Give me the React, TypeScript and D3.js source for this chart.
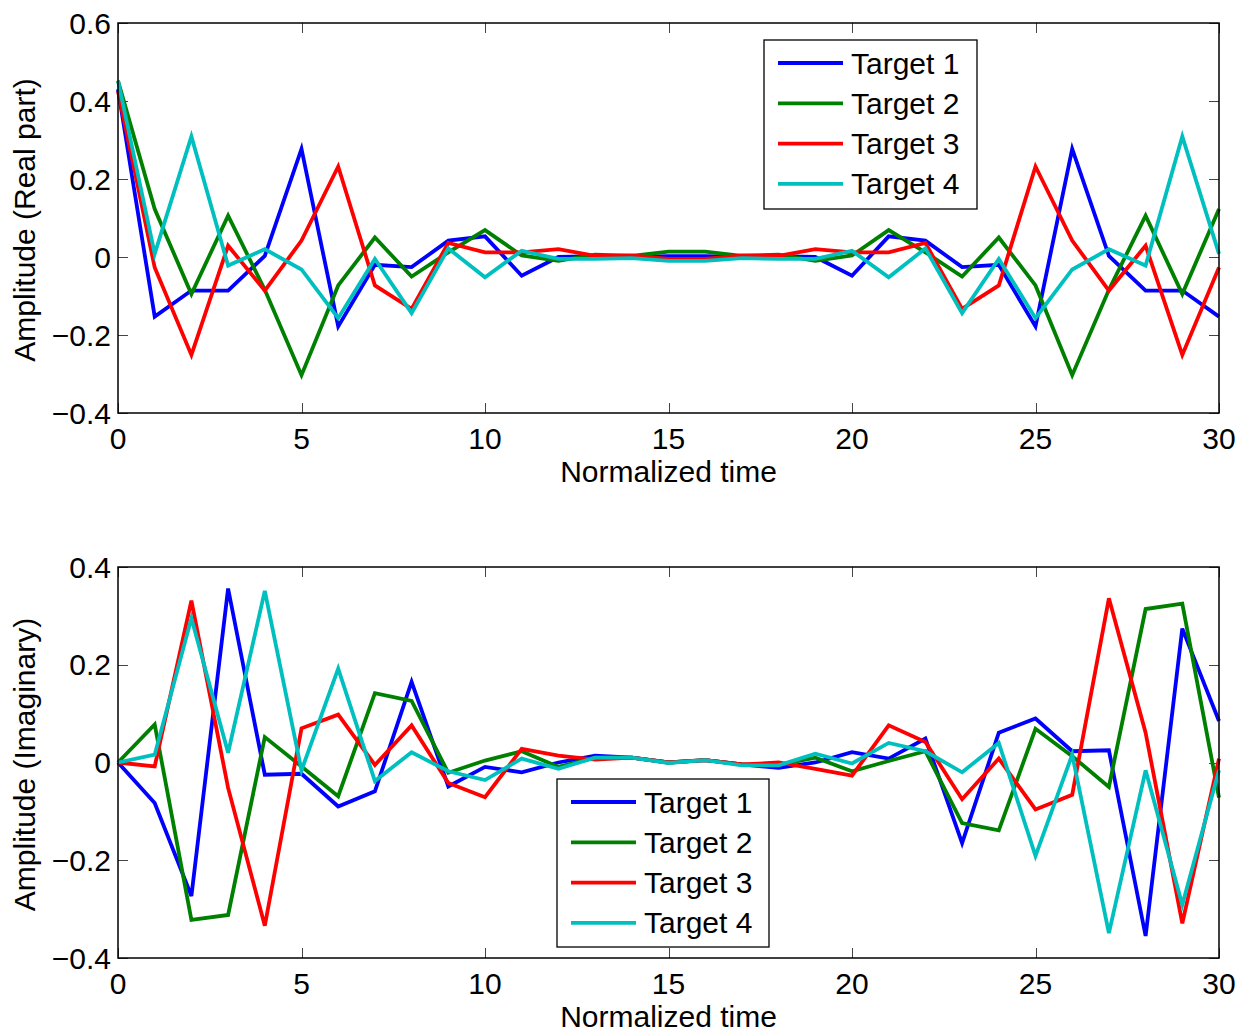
import React, { useEffect, useRef } from "react";
import * as d3 from "d3";

const timeSteps = d3.range(0, 31);
const seriesNames = ["Target 1", "Target 2", "Target 3", "Target 4"];
const seriesColors = ["#0000ff", "#008000", "#ff0000", "#00bfbf"];

// real part
const real1 = [0.43, -0.153, -0.086, -0.086, 0.003, 0.277, -0.178, -0.02, -0.026, 0.042, 0.053, -0.048, 0.0, 0.002, 0.0, 0.002,
    0.002, 0.0, 0.002, 0.0, -0.048, 0.053, 0.042, -0.026, -0.02, -0.178, 0.277, 0.003, -0.086, -0.086, -0.153];
const real2 = [0.452, 0.123, -0.095, 0.106, -0.084, -0.303, -0.073, 0.05, -0.05, 0.012, 0.069, 0.004, -0.01, 0.006, 0.003, 0.014,
    0.014, 0.003, 0.006, -0.01, 0.004, 0.069, 0.012, -0.05, 0.05, -0.073, -0.303, -0.084, 0.106, -0.095, 0.123];
const real3 = [0.426, -0.027, -0.251, 0.029, -0.086, 0.042, 0.232, -0.073, -0.133, 0.036, 0.012, 0.012, 0.02, 0.003, 0.004, -0.005,
    -0.005, 0.004, 0.003, 0.02, 0.012, 0.012, 0.036, -0.133, -0.073, 0.232, 0.042, -0.086, 0.029, -0.251, -0.027];
const real4 = [0.452, 0.008, 0.309, -0.022, 0.02, -0.032, -0.157, -0.005, -0.144, 0.022, -0.052, 0.016, -0.005, -0.005, -0.003, -0.01,
    -0.01, -0.003, -0.005, -0.005, 0.016, -0.052, 0.022, -0.144, -0.005, -0.157, -0.032, 0.02, -0.022, 0.309, 0.008];

// imaginary part
const imag1 = [0, -0.083, -0.273, 0.356, -0.025, -0.023, -0.09, -0.059, 0.165, -0.049, -0.009, -0.02, 0.0, 0.014, 0.01, 0.0,
    0.005, -0.004, -0.011, 0.0, 0.021, 0.008, 0.049, -0.165, 0.061, 0.09, 0.023, 0.025, -0.355, 0.274, 0.085];
const imag2 = [0, 0.078, -0.322, -0.312, 0.052, -0.008, -0.069, 0.142, 0.126, -0.021, 0.004, 0.023, -0.009, 0.01, 0.01, 0.0,
    0.005, -0.004, -0.005, 0.01, -0.018, 0.003, 0.023, -0.124, -0.139, 0.069, 0.013, -0.05, 0.314, 0.325, -0.072];
const imag3 = [0, -0.008, 0.331, -0.052, -0.334, 0.07, 0.098, -0.005, 0.076, -0.042, -0.071, 0.028, 0.014, 0.006, 0.01, 0.0,
    0.005, -0.004, 0.0, -0.013, -0.027, 0.076, 0.042, -0.075, 0.008, -0.096, -0.066, 0.336, 0.061, -0.329, 0.008];
const imag4 = [0, 0.016, 0.295, 0.02, 0.351, -0.016, 0.192, -0.038, 0.021, -0.018, -0.036, 0.008, -0.013, 0.01, 0.01, -0.001,
    0.005, -0.006, -0.006, 0.018, -0.002, 0.04, 0.023, -0.02, 0.04, -0.191, 0.016, -0.349, -0.016, -0.291, -0.016];

const xTicks = [0, 5, 10, 15, 20, 25, 30];
const realTicks = [-0.4, -0.2, 0, 0.2, 0.4, 0.6];
const imagTicks = [-0.4, -0.2, 0, 0.2, 0.4];

const FONT = "'Liberation Sans', Arial, Helvetica, sans-serif";
const FS = 30;

const fmt = (v) => {
    if (Math.abs(v) < 1e-9) return "0";
    const s = d3.format(".1f")(Math.abs(v));
    return (v < 0 ? "\u2212" : "") + s;
};

function drawPanel(root, opts) {
    const { top, bottom, left, right, yDomain, yTicks, series, yLabel, legend } = opts;
    const x = d3.scaleLinear().domain([0, 30]).range([left, right]);
    const y = d3.scaleLinear().domain(yDomain).range([bottom, top]);

    const g = root.append("g");

    // ticks, inward on all four sides
    const tickLen = 10;
    const ticks = g.append("g").attr("stroke", "#444").attr("stroke-width", 1);
    xTicks.forEach((t) => {
        const px = Math.round(x(t)) + 0.5;
        ticks.append("line").attr("x1", px).attr("x2", px).attr("y1", bottom).attr("y2", bottom - tickLen);
        ticks.append("line").attr("x1", px).attr("x2", px).attr("y1", top).attr("y2", top + tickLen);
    });
    yTicks.forEach((t) => {
        const py = Math.round(y(t)) + 0.5;
        ticks.append("line").attr("x1", left).attr("x2", left + tickLen).attr("y1", py).attr("y2", py);
        ticks.append("line").attr("x1", right).attr("x2", right - tickLen).attr("y1", py).attr("y2", py);
    });

    // series lines
    const line = d3.line().x((d, i) => x(timeSteps[i])).y((d) => y(d));
    series.forEach((vals, k) => {
        g.append("path")
            .attr("d", line(vals))
            .attr("fill", "none")
            .attr("stroke", seriesColors[k])
            .attr("stroke-width", 3.8)
            .attr("stroke-linejoin", "miter");
    });

    // box
    g.append("rect")
        .attr("x", left).attr("y", top)
        .attr("width", right - left).attr("height", bottom - top)
        .attr("fill", "none").attr("stroke", "#000").attr("stroke-width", 1.5);

    // tick labels
    g.selectAll(".xt").data(xTicks).enter().append("text")
        .attr("x", (d) => x(d)).attr("y", bottom + 25)
        .attr("text-anchor", "middle").attr("dominant-baseline", "central")
        .attr("font-family", FONT).attr("font-size", FS)
        .text((d) => d);
    g.selectAll(".yt").data(yTicks).enter().append("text")
        .attr("x", left - 7).attr("y", (d) => y(d))
        .attr("text-anchor", "end").attr("dominant-baseline", "central")
        .attr("font-family", FONT).attr("font-size", FS)
        .text((d) => fmt(d));

    // axis labels
    g.append("text")
        .attr("x", (left + right) / 2).attr("y", bottom + 58)
        .attr("text-anchor", "middle").attr("dominant-baseline", "central")
        .attr("font-family", FONT).attr("font-size", FS)
        .text("Normalized time");
    g.append("text")
        .attr("transform", `translate(24,${(top + bottom) / 2 + 2}) rotate(-90)`)
        .attr("text-anchor", "middle").attr("dominant-baseline", "central")
        .attr("font-family", FONT).attr("font-size", FS)
        .text(yLabel);

    // legend
    const lg = g.append("g");
    lg.append("rect")
        .attr("x", legend.x).attr("y", legend.y)
        .attr("width", legend.w).attr("height", legend.h)
        .attr("fill", "#fff").attr("stroke", "#000").attr("stroke-width", 1.3);
    seriesNames.forEach((name, k) => {
        const ry = legend.y + 23 + k * 40.3;
        lg.append("line")
            .attr("x1", legend.x + 14).attr("x2", legend.x + 79)
            .attr("y1", ry).attr("y2", ry)
            .attr("stroke", seriesColors[k]).attr("stroke-width", 3.8);
        lg.append("text")
            .attr("x", legend.x + 87).attr("y", ry)
            .attr("dominant-baseline", "central")
            .attr("font-family", FONT).attr("font-size", FS)
            .text(name);
    });
}

const App = () => {
    const chartRef = useRef(null);

    useEffect(() => {
        const svg = d3.select(chartRef.current);
        svg.selectAll("*").remove();

        drawPanel(svg, {
            top: 23, bottom: 413, left: 118, right: 1219,
            yDomain: [-0.4, 0.6], yTicks: realTicks,
            series: [real1, real2, real3, real4],
            yLabel: "Amplitude (Real part)",
            legend: { x: 764, y: 40, w: 213, h: 169 },
        });
        drawPanel(svg, {
            top: 567, bottom: 958, left: 118, right: 1219,
            yDomain: [-0.4, 0.4], yTicks: imagTicks,
            series: [imag1, imag2, imag3, imag4],
            yLabel: "Amplitude (Imaginary)",
            legend: { x: 557, y: 779, w: 212, h: 168 },
        });
    }, []);

    return (
        <svg
            ref={chartRef}
            width={1245}
            height={1028}
            style={{ position: "absolute", left: 0, top: 0, background: "#fff" }}
        />
    );
};

export default App;
